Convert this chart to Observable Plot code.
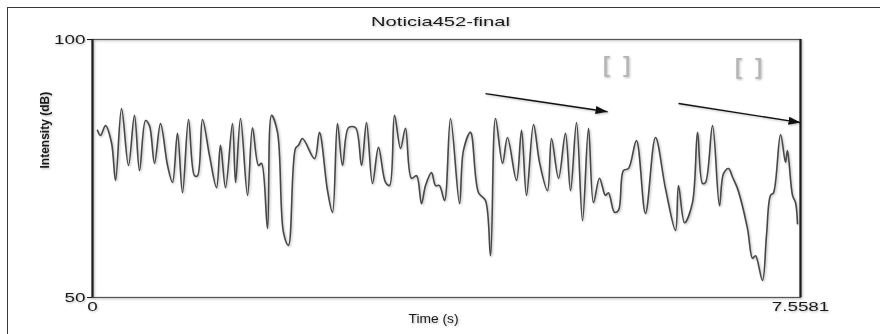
<!DOCTYPE html>
<html><head><meta charset="utf-8">
<script src="https://cdn.jsdelivr.net/npm/d3@7"></script>
<script src="https://cdn.jsdelivr.net/npm/@observablehq/plot@0.6"></script>
<style>
html,body{margin:0;padding:0;background:#fff;}
#wrap{position:relative;width:880px;height:334px;overflow:hidden;background:#fff;}
#border{position:absolute;left:7px;top:7px;width:1000px;height:500px;border-top:1.5px solid #3a3a3a;border-left:1.5px solid #3a3a3a;}
#wrap svg{position:absolute;left:0;top:0;}
</style></head><body><div id="wrap"><div id="border"></div></div>
<script>
const title = "Noticia452-final";
const xLabel = "Time (s)";
const yLabel = "Intensity (dB)";
const xTicks = [0, 7.5581];
const yTicks = [50, 100];
const times = [0.053,0.085,0.139,0.203,0.246,0.310,0.384,0.448,0.502,0.566,0.608,0.662,0.726,0.801,0.854,0.907,0.961,1.025,1.089,1.121,1.174,1.249,1.324,1.366,1.420,1.494,1.527,1.580,1.655,1.708,1.772,1.804,1.868,1.911,1.975,2.039,2.092,2.167,2.199,2.242,2.370,2.423,2.509,2.562,2.615,2.669,2.733,2.808,2.872,2.925,2.989,3.053,3.128,3.171,3.224,3.288,3.341,3.405,3.459,3.512,3.555,3.619,3.662,3.704,3.758,3.822,3.918,3.960,4.035,4.121,4.195,4.249,4.302,4.377,4.430,4.526,4.580,4.633,4.708,4.772,4.857,4.900,4.975,5.049,5.103,5.167,5.231,5.295,5.348,5.412,5.476,5.508,5.572,5.615,5.668,5.722,5.807,5.903,6.010,6.117,6.224,6.256,6.320,6.405,6.459,6.512,6.544,6.619,6.693,6.736,6.790,6.833,6.886,6.992,7.046,7.078,7.152,7.195,7.238,7.270,7.345,7.398,7.419,7.473,7.505,7.526];
const intensity = [82.4,81.4,83.3,80.0,72.7,86.6,75.6,85.3,74.6,84.3,83.3,76.0,83.7,75.6,72.3,81.8,70.3,84.5,73.6,73.6,84.5,77.5,71.3,79.5,71.3,83.7,72.3,84.7,69.8,82.9,75.6,76.0,63.4,85.3,82.0,62.6,60.1,78.9,79.5,80.8,76.9,82.0,70.7,66.5,83.7,75.6,82.9,82.9,75.6,83.9,72.1,79.1,72.3,71.7,85.3,78.9,82.8,73.1,73.6,68.2,71.7,74.2,71.7,71.7,68.8,84.7,68.2,78.5,82.0,70.3,68.8,58.1,84.7,76.0,81.0,72.7,82.4,69.8,83.5,76.2,70.7,80.8,73.1,81.8,70.7,83.9,64.9,82.8,68.4,73.1,69.8,70.3,66.5,66.9,74.6,75.0,80.4,66.3,81.0,71.1,63.0,71.7,64.5,68.4,82.0,72.1,72.3,83.3,67.8,74.0,75.0,73.3,71.1,63.4,57.6,58.1,53.3,62.0,69.8,70.3,81.6,76.2,78.5,69.8,68.4,64.3];
// annotation arrows (time, dB)
const arrowT1 = [4.195, 6.256];
const arrowDb1 = [89.5, 87.6];
const arrowT2 = [5.498, 7.558];
const arrowDb2 = [86.0, 83.9];
// bracket annotations
const bracketT = [5.594, 7.003];
const bracketDb = [94.8, 94.4];
const bracketText = ["[ ]", "[ ]"];

const data = times.map((t, i) => ({t, db: intensity[i]}));
const arrows = arrowT1.map((t, i) => ({x1: t, y1: arrowDb1[i], x2: arrowT2[i], y2: arrowDb2[i]}));
const brackets = bracketT.map((t, i) => ({t, db: bracketDb[i], s: bracketText[i]}));

const chart = Plot.plot({
  width: 880, height: 334,
  marginLeft: 92, marginRight: 80, marginTop: 39, marginBottom: 37,
  style: {fontFamily: "'Liberation Sans', Arial, sans-serif", fontSize: "13px", color: "#1a1a1a", background: "transparent", overflow: "visible"},
  x: {domain: [0, 7.5581]},
  y: {domain: [50, 100]},
  marks: [
    Plot.frame({stroke: "#555", strokeWidth: 1.2}),
    Plot.ruleX(xTicks, {stroke: "#1e1e1e", strokeWidth: 2.2}),
    Plot.axisX({ticks: xTicks, tickFormat: d => String(d), tickSize: 0, tickPadding: 4, label: null, fontSize: 13}),
    Plot.axisY({ticks: yTicks, tickFormat: d => String(d), tickSize: 5, tickPadding: 2, label: null, fontSize: 13}),
    Plot.line(data, {x: "t", y: "db", stroke: "#474747", strokeWidth: 1.6, curve: "catmull-rom"}),
    Plot.link(arrows, {x1: "x1", y1: "y1", x2: "x2", y2: "y2", stroke: "#111", strokeWidth: 1.3}),
    Plot.text(brackets, {x: "t", y: "db", text: "s", fill: "#b4b4b4", fontSize: 23, fontWeight: "normal", fontFamily: "'DejaVu Sans', sans-serif"}),
    Plot.text([title], {frameAnchor: "top", dy: -23, dx: -6, fontSize: 13, fill: "#1a1a1a"}),
    Plot.text([xLabel], {frameAnchor: "bottom", dy: 25, dx: -13, fontSize: 12, fill: "#1a1a1a"}),
    Plot.text([yLabel], {frameAnchor: "left", dx: -47, rotate: -90, fontSize: 12, fontWeight: "bold", fill: "#1a1a1a"})
  ]
});
document.getElementById("wrap").appendChild(chart);

const svg = d3.select(chart);
// arrow head marker
const defs = svg.insert("defs", ":first-child");
defs.append("marker").attr("id", "ah").attr("viewBox", "0 0 12 8").attr("refX", 12).attr("refY", 4)
  .attr("markerWidth", 12).attr("markerHeight", 8).attr("markerUnits", "userSpaceOnUse").attr("orient", "auto")
  .append("path").attr("d", "M0,0L12,4L0,8Z").attr("fill", "#111");
svg.selectAll("g[aria-label=link] path").attr("marker-end", "url(#ah)");
// soft drop shadow like the reference
svg.style("filter", "drop-shadow(1.5px 1.5px 1px rgba(0,0,0,0.28))");
// reference is horizontally stretched: widen horizontal text
svg.selectAll("text").each(function() {
  const el = this;
  const tr = el.getAttribute("transform") || "";
  if (tr.includes("rotate")) return;
  const w = el.getComputedTextLength();
  const k = el.textContent === title ? 1.55 : el.textContent === xLabel ? 1.15 : el.textContent.includes("[") ? 1.15 : 1.45;
  el.setAttribute("textLength", w * k);
  el.setAttribute("lengthAdjust", "spacingAndGlyphs");
});
</script>
</body></html>
